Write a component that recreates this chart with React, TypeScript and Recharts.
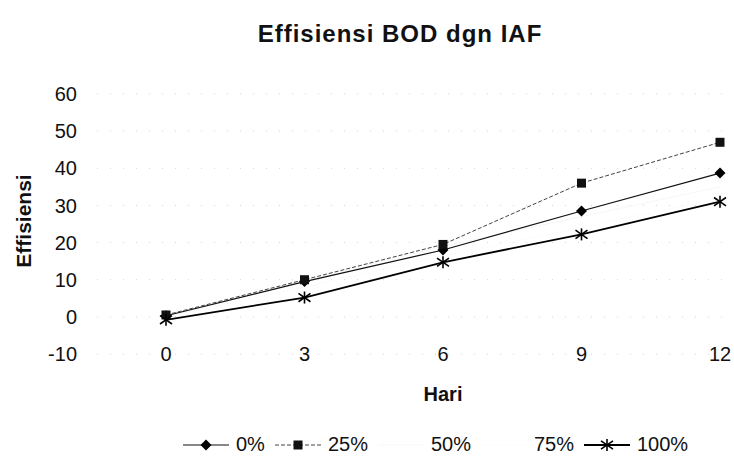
import React from 'react';
import { CartesianGrid, Legend, Line, LineChart, XAxis, YAxis } from 'recharts';

// hari pengamatan
const days = [0, 3, 6, 9, 12];
const yTicks = [-10, 0, 10, 20, 30, 40, 50, 60];

// effisiensi BOD (%) per dosis IAF
const eff0 = [0.3, 9.5, 18, 28.5, 38.7];
const eff25 = [0.5, 10, 19.5, 36, 47];
const eff50 = [0, 9.7, 19, 27, 35];
const eff75 = [0, 8, 16.5, 24, 32];
const eff100 = [-0.8, 5.2, 14.7, 22.2, 31];

const seriesNames = ['0%', '25%', '50%', '75%', '100%'];

const data = days.map((hari, i) => ({
  hari,
  s0: eff0[i],
  s25: eff25[i],
  s50: eff50[i],
  s75: eff75[i],
  s100: eff100[i],
}));

const FONT = '"Liberation Sans", Arial, sans-serif';

type Shape = 'diamond' | 'square' | 'star' | 'none';

const markerFor: Record<string, Shape> = {
  '0%': 'diamond',
  '25%': 'square',
  '50%': 'none',
  '75%': 'none',
  '100%': 'star',
};

const lineStyle: Record<string, { stroke: string; width: number; dash?: string }> = {
  '0%': { stroke: '#111', width: 1.2 },
  '25%': { stroke: '#444', width: 1, dash: '4 2' },
  '50%': { stroke: '#f7f7f7', width: 1 },
  '75%': { stroke: '#fcfcfc', width: 1 },
  '100%': { stroke: '#000', width: 1.8 },
};

const Marker = ({ cx, cy, shape }: { cx: number; cy: number; shape: Shape }) => {
  if (shape === 'diamond') {
    return <path d={`M${cx},${cy - 5.5}L${cx + 5.5},${cy}L${cx},${cy + 5.5}L${cx - 5.5},${cy}Z`} fill="#000" />;
  }
  if (shape === 'square') {
    return <rect x={cx - 4.5} y={cy - 4.5} width={9} height={9} fill="#111" />;
  }
  if (shape === 'star') {
    const r = 6;
    return (
      <g stroke="#000" strokeWidth={1.6}>
        <line x1={cx} y1={cy - r} x2={cx} y2={cy + r} />
        <line x1={cx - r} y1={cy - r * 0.7} x2={cx + r} y2={cy + r * 0.7} />
        <line x1={cx - r} y1={cy + r * 0.7} x2={cx + r} y2={cy - r * 0.7} />
      </g>
    );
  }
  return null;
};

const makeDot = (name: string) => (props: any) => {
  const { cx, cy, index } = props;
  if (cx == null || cy == null) return <g key={`${name}-${index}`} />;
  return (
    <g key={`${name}-${index}`}>
      <Marker cx={cx} cy={cy} shape={markerFor[name]} />
    </g>
  );
};

const XTick = (props: any) => {
  const { x, y, payload } = props;
  return (
    <text x={x} y={y} dy="0.36em" textAnchor="middle" fontSize={20} fontFamily={FONT} fill="#111">
      {payload.value}
    </text>
  );
};

const renderLegend = (props: any) => {
  const items = [...(props.payload || [])].sort(
    (a: any, b: any) => seriesNames.indexOf(a.value) - seriesNames.indexOf(b.value),
  );
  return (
    <div style={{ display: 'flex', alignItems: 'center', fontFamily: FONT, fontSize: 20, color: '#111' }}>
      {items.map((it: any) => {
        const st = lineStyle[it.value];
        return (
          <div key={it.value} style={{ display: 'flex', alignItems: 'center', marginRight: 10 }}>
            <svg width={46} height={20} style={{ marginRight: 7 }}>
              <line x1={0} y1={10} x2={46} y2={10} stroke={st.stroke} strokeWidth={st.width} strokeDasharray={st.dash} />
              <Marker cx={23} cy={10} shape={markerFor[it.value]} />
            </svg>
            <span>{it.value}</span>
          </div>
        );
      })}
    </div>
  );
};

const App: React.FC = () => (
  <div style={{ position: 'absolute', left: 0, top: 0, width: 734, height: 468, background: '#fff' }}>
    <div
      style={{
        position: 'absolute',
        left: 0,
        width: 800,
        top: 20,
        textAlign: 'center',
        fontFamily: FONT,
        fontWeight: 'bold',
        fontSize: 24,
        letterSpacing: 1,
        color: '#111',
      }}
    >
      Effisiensi BOD dgn IAF
    </div>
    <LineChart width={734} height={468} data={data} margin={{ top: 94, right: 0, bottom: 84, left: 37 }}>
      <CartesianGrid vertical={false} stroke="#d4d4d4" strokeDasharray="1 12" />
      <XAxis
        dataKey="hari"
        type="number"
        domain={[0, 12]}
        ticks={days}
        height={30}
        padding={{ left: 69, right: 14 }}
        axisLine={false}
        tickLine={false}
        tickSize={0}
        tickMargin={0}
        tick={<XTick />}
        label={{
          content: () => (
            <text x={443} y={394} dy="0.36em" textAnchor="middle" fontSize={20} fontWeight="bold" fontFamily={FONT} fill="#111">
              Hari
            </text>
          ),
        }}
      />
      <YAxis
        domain={[-10, 60]}
        ticks={yTicks}
        width={60}
        axisLine={false}
        tickLine={false}
        tickSize={0}
        tickMargin={20}
        tick={{ fontSize: 20, fontFamily: FONT, fill: '#111' }}
        label={{
          content: () => (
            <text
              x={23}
              y={221}
              transform="rotate(-90 23 221)"
              dy="0.36em"
              textAnchor="middle"
              fontSize={21}
              fontWeight="bold"
              fontFamily={FONT}
              fill="#111"
            >
              Effisiensi
            </text>
          ),
        }}
      />
      <Line dataKey="s50" name="50%" stroke="#f7f7f7" strokeWidth={1} dot={false} isAnimationActive={false} />
      <Line dataKey="s75" name="75%" stroke="#fcfcfc" strokeWidth={1} dot={false} isAnimationActive={false} />
      <Line dataKey="s0" name="0%" stroke="#111" strokeWidth={1.2} dot={makeDot('0%')} isAnimationActive={false} />
      <Line
        dataKey="s25"
        name="25%"
        stroke="#444"
        strokeWidth={1}
        strokeDasharray="4 2"
        dot={makeDot('25%')}
        isAnimationActive={false}
      />
      <Line dataKey="s100" name="100%" stroke="#000" strokeWidth={1.8} dot={makeDot('100%')} isAnimationActive={false} />
      <Legend
        layout="horizontal"
        verticalAlign="middle"
        align="center"
        wrapperStyle={{ left: 183, top: 433, bottom: 'auto', width: 551, height: 26 }}
        content={renderLegend}
      />
    </LineChart>
  </div>
);

export default App;
